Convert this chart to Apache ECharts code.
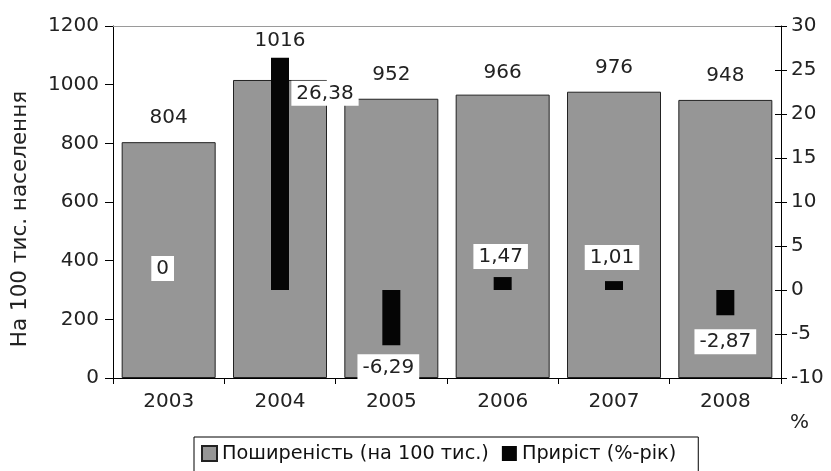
<!DOCTYPE html>
<html><head><meta charset="utf-8">
<script src="https://cdn.jsdelivr.net/npm/echarts@6/dist/echarts.min.js"></script>
<style>html,body{margin:0;padding:0;background:#fff}#c{width:831px;height:471px}</style>
</head><body><div id="c"></div>
<script>
const years = ['2003','2004','2005','2006','2007','2008'];
const prevalence = [804, 1016, 952, 966, 976, 948];
const growth = [0, 26.38, -6.29, 1.47, 1.01, -2.87];
const leftTicks = {min: 0, max: 1200, interval: 200};
const rightTicks = {min: -10, max: 30, interval: 5};
const seriesNames = ['Поширеність (на 100 тис.)', 'Приріст (%-рік)'];
const leftAxisTitle = 'На 100 тис. населення';
const rightAxisUnit = '%';

const FONT = 'DejaVu Sans';
const fmt = v => v === 0 ? '0' : v.toFixed(2).replace('.', ',');

// label placement styles (per bar)
const growthLabelStyle = [
  {position: 'top', offset: [-6, -4]},
  {position: 'top', offset: [45, 53]},
  {position: 'bottom', offset: [-3, 4]},
  {position: 'top', offset: [-2, -3]},
  {position: 'top', offset: [-2, -6]},
  {position: 'bottom', offset: [0, 9]}
];
const prevLabelOffset = [0, -15, 0, 2, 0, 0];

const chart = echarts.init(document.getElementById('c'), null, {renderer: 'canvas'});
chart.setOption({
  animation: false,
  textStyle: {fontFamily: FONT},
  grid: {left: 113, right: 50, top: 26, bottom: 93, containLabel: false},
  graphic: [
    {type: 'text', left: 790, top: 413, style: {text: rightAxisUnit, fontSize: 20, fontFamily: FONT, fill: '#222'}},
    {type: 'text', x: 20, y: 219, rotation: Math.PI / 2,
     style: {text: leftAxisTitle, fontSize: 21.5, fontFamily: FONT, fill: '#222', align: 'center', verticalAlign: 'middle'}}
  ],
  legend: {
    left: 194, top: 437,
    padding: [7, 22, 10, 7],
    borderColor: '#000', borderWidth: 1,
    itemWidth: 15, itemHeight: 15, itemGap: 13,
    icon: 'rect',
    textStyle: {fontSize: 19.3, fontFamily: FONT, color: '#111'},
    data: seriesNames
  },
  xAxis: [
    {type: 'category', data: years, position: 'bottom',
     axisLine: {lineStyle: {color: '#000', width: 1}},
     axisTick: {show: true, length: 6, lineStyle: {color: '#000'}},
     axisLabel: {fontSize: 20, color: '#222', margin: 14, fontFamily: FONT}},
    {type: 'category', data: years, position: 'top',
     axisLine: {show: true, onZero: false, lineStyle: {color: '#9a9a9a', width: 1}},
     axisTick: {show: false}, axisLabel: {show: false}}
  ],
  yAxis: [
    {type: 'value', min: leftTicks.min, max: leftTicks.max, interval: leftTicks.interval,
     axisLine: {show: true, lineStyle: {color: '#000'}},
     axisTick: {show: true, length: 8, lineStyle: {color: '#000'}},
     axisLabel: {fontSize: 20, color: '#222', margin: 14, fontFamily: FONT, formatter: v => String(v)},
     splitLine: {show: false}},
    {type: 'value', min: rightTicks.min, max: rightTicks.max, interval: rightTicks.interval, position: 'right',
     axisLine: {show: true, lineStyle: {color: '#000'}},
     axisTick: {show: true, length: 6, lineStyle: {color: '#000'}},
     axisLabel: {fontSize: 20, color: '#222', margin: 10, fontFamily: FONT, formatter: v => String(v)},
     splitLine: {show: false}},
    {type: 'value', min: rightTicks.min, max: rightTicks.max, interval: rightTicks.interval, position: 'right',
     axisLine: {show: false},
     axisTick: {show: true, inside: true, length: 6, lineStyle: {color: '#000'}},
     axisLabel: {show: false}, splitLine: {show: false}}
  ],
  series: [
    {name: seriesNames[0], type: 'bar', xAxisIndex: 0, yAxisIndex: 0, barWidth: 94,
     itemStyle: {color: '#969696', borderColor: '#222', borderWidth: 1},
     data: prevalence.map((v, i) => ({value: v, label: {offset: [0, prevLabelOffset[i]]}})),
     label: {show: true, position: 'top', distance: 14, fontSize: 20, color: '#222', fontFamily: FONT},
     z: 2},
    {name: seriesNames[1], type: 'bar', xAxisIndex: 1, yAxisIndex: 1, barWidth: 18,
     itemStyle: {color: '#050505'},
     data: growth.map((v, i) => ({value: v, label: growthLabelStyle[i]})),
     label: {show: true, fontSize: 20, color: '#222', fontFamily: FONT,
             backgroundColor: '#fff', padding: [3, 5, 2, 5], distance: 5,
             formatter: p => fmt(p.value)},
     z: 3}
  ]
});
</script></body></html>
